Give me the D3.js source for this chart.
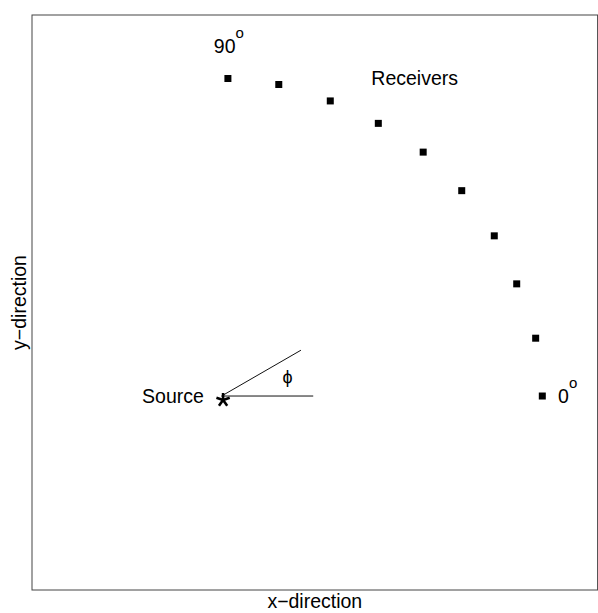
<!DOCTYPE html>
<html>
<head>
<meta charset="utf-8">
<script src="https://cdn.jsdelivr.net/npm/d3@7"></script>
<style>
  html, body { margin: 0; padding: 0; background: #fff; }
  svg { display: block; }
  text { font-family: "Liberation Sans", Arial, Helvetica, sans-serif; fill: #000; }
</style>
</head>
<body>
<script>
// ---- data (in plot units; source at origin) ----
const receiverAngles = [0, 10, 20, 30, 40, 50, 60, 70, 80, 90];
const receiverX = [101.5, 99.4, 93.4, 86.3, 76.0, 63.8, 49.6, 34.4, 18.1, 2.0];
const receiverY = [0, 18.3, 35.5, 50.7, 65.0, 77.2, 86.3, 93.4, 98.6, 100.5];
const sourceXY = [0, 0];
const phiAngleDeg = 30;
const phiArmLength = 29;
const xDomain = [-60, 119];
const yDomain = [-61.4, 120.6];
const axisTitles = ["x\u2212direction", "y\u2212direction"];
// annotation texts and anchors (plot units)
const annoText = ["Receivers", "Source", "\u03d5"];
const annoX = [61.1, -5.6, 20.9];
const annoY = [98.4, -2.2, 6.0];
const degLabels = ["90", "0"];
const degLabelX = [2.3, 106.5];
const degLabelY = [108.7, -2.2];

const W = 598, H = 613;
const svg = d3.select("body").append("svg").attr("width", W).attr("height", H);

const x = d3.scaleLinear().domain(xDomain).range([32, 597.6]);
const y = d3.scaleLinear().domain(yDomain).range([590, 15]);

// frame
svg.append("rect")
  .attr("x", x(xDomain[0])).attr("y", y(yDomain[1]))
  .attr("width", x(xDomain[1]) - x(xDomain[0]))
  .attr("height", y(yDomain[0]) - y(yDomain[1]))
  .attr("fill", "none").attr("stroke", "#444").attr("stroke-width", 1);

// receivers
const sq = 7;
svg.selectAll("rect.rec").data(receiverAngles).join("rect")
  .attr("class", "rec")
  .attr("x", (d, i) => x(receiverX[i]) - sq / 2)
  .attr("y", (d, i) => y(receiverY[i]) - sq / 2)
  .attr("width", sq).attr("height", sq).attr("fill", "#000");

// phi lines
const sx = x(sourceXY[0]), sy = y(sourceXY[1]);
const rad = phiAngleDeg * Math.PI / 180;
svg.append("line")
  .attr("x1", sx).attr("y1", sy)
  .attr("x2", x(sourceXY[0] + phiArmLength)).attr("y2", y(sourceXY[1]))
  .attr("stroke", "#111").attr("stroke-width", 1);
svg.append("line")
  .attr("x1", sx).attr("y1", sy)
  .attr("x2", x(sourceXY[0] + phiArmLength * Math.cos(rad)))
  .attr("y2", y(sourceXY[1] + phiArmLength * Math.sin(rad)))
  .attr("stroke", "#111").attr("stroke-width", 1);

// source star (5-armed asterisk)
const star = svg.append("g").attr("transform", `translate(${sx + 1.5},${sy + 4})`);
[90, 18, 162, 234, 306].forEach(a => {
  const r = a * Math.PI / 180;
  star.append("line").attr("x1", 0).attr("y1", 0)
    .attr("x2", 7 * Math.cos(r)).attr("y2", -7 * Math.sin(r))
    .attr("stroke", "#000").attr("stroke-width", 2.6);
});

// annotations
svg.append("text").attr("x", x(annoX[0])).attr("y", y(annoY[0]))
  .attr("text-anchor", "middle").attr("font-size", 19.5).text(annoText[0]);
svg.append("text").attr("x", x(annoX[1])).attr("y", y(annoY[1]))
  .attr("text-anchor", "end").attr("font-size", 19.5).text(annoText[1]);
svg.append("text").attr("x", x(annoX[2])).attr("y", y(annoY[2]))
  .attr("text-anchor", "middle").attr("dominant-baseline", "central")
  .attr("font-size", 18).text(annoText[2]);

// degree labels with superscript o
degLabels.forEach((lab, i) => {
  const t = svg.append("text").attr("x", x(degLabelX[i])).attr("y", y(degLabelY[i]))
    .attr("text-anchor", i === 0 ? "middle" : "start").attr("font-size", 19.5);
  t.append("tspan").text(lab);
  t.append("tspan").attr("font-size", 15).attr("dy", -14.5).text("o");
});

// axis titles
svg.append("text").attr("x", (x(xDomain[0]) + x(xDomain[1])) / 2).attr("y", 608)
  .attr("text-anchor", "middle").attr("font-size", 19.5).text(axisTitles[0]);
svg.append("text")
  .attr("transform", `translate(26,${(y(yDomain[0]) + y(yDomain[1])) / 2}) rotate(-90)`)
  .attr("text-anchor", "middle").attr("font-size", 19.5).text(axisTitles[1]);
</script>
</body>
</html>
